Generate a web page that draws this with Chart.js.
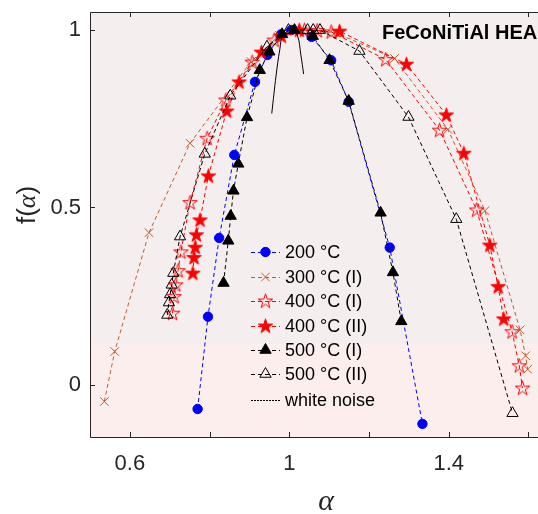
<!DOCTYPE html>
<html>
<head>
<meta charset="utf-8">
<script src="https://cdn.jsdelivr.net/npm/chart.js@4.4.1/dist/chart.umd.min.js"></script>
<style>
  html, body { margin: 0; padding: 0; background: #fff; }
</style>
</head>
<body>
<canvas id="chart" width="538" height="514"></canvas>
<script>
// values: alpha (x) and f(alpha) (y) per curve
const alpha200 = [0.770, 0.796, 0.824, 0.862, 0.914, 0.945, 0.979, 1.005, 1.056, 1.105, 1.149, 1.252, 1.334];
const f200     = [-0.068, 0.192, 0.414, 0.648, 0.854, 0.930, 0.988, 1.000, 0.981, 0.915, 0.798, 0.387, -0.110];

const alpha300 = [0.536, 0.562, 0.648, 0.751, 0.904, 0.975, 1.010, 1.115, 1.264, 1.398, 1.491, 1.579, 1.593, 1.598];
const f300     = [-0.047, 0.094, 0.429, 0.681, 0.911, 0.985, 1.000, 0.993, 0.920, 0.720, 0.491, 0.155, 0.082, 0.044];

const alpha400a = [0.707, 0.711, 0.715, 0.721, 0.728, 0.751, 0.794, 0.841, 0.907, 0.962, 1.038, 1.070, 1.105, 1.242, 1.377, 1.470, 1.559, 1.577, 1.585];
const f400a     = [0.202, 0.249, 0.282, 0.322, 0.375, 0.514, 0.695, 0.803, 0.910, 0.972, 1.000, 0.999, 0.995, 0.917, 0.718, 0.493, 0.150, 0.054, -0.009];

const alpha400b = [0.758, 0.761, 0.764, 0.767, 0.776, 0.797, 0.843, 0.874, 0.930, 0.980, 1.025, 1.126, 1.294, 1.394, 1.438, 1.503, 1.524, 1.538];
const f400b     = [0.315, 0.359, 0.388, 0.423, 0.465, 0.589, 0.772, 0.854, 0.938, 0.983, 1.000, 0.997, 0.904, 0.761, 0.653, 0.394, 0.277, 0.186];

const alpha500a = [0.835, 0.847, 0.853, 0.860, 0.872, 0.894, 0.926, 0.950, 0.982, 1.013, 1.059, 1.101, 1.149, 1.229, 1.260, 1.281];
const f500a     = [0.287, 0.406, 0.476, 0.547, 0.623, 0.754, 0.887, 0.939, 0.988, 1.000, 0.983, 0.915, 0.800, 0.485, 0.317, 0.179];

const alpha500b = [0.694, 0.698, 0.701, 0.705, 0.709, 0.726, 0.788, 0.852, 0.944, 0.998, 1.046, 1.060, 1.077, 1.176, 1.299, 1.419, 1.560];
const f500b     = [0.197, 0.232, 0.255, 0.282, 0.315, 0.418, 0.651, 0.815, 0.953, 1.000, 1.000, 1.000, 1.000, 0.941, 0.755, 0.467, -0.080];

const alphaNoise = [0.956, 0.967, 0.976, 0.985, 1.003, 1.020, 1.029, 1.036];
const fNoise     = [0.765, 0.873, 0.944, 0.991, 1.005, 0.986, 0.930, 0.876];

const seriesLabels = ['200 °C', '300 °C (I)', '400 °C (I)', '400 °C (II)', '500 °C (I)', '500 °C (II)', 'white noise'];

const xTickValues = [0.6, 0.8, 1.0, 1.2, 1.4, 1.6];
const xTickLabels = ['0.6', '', '1', '', '1.4', ''];
const yTickValues = [0, 0.5, 1];
const yTickLabels = ['0', '0.5', '1'];

const AXIS = '#262626';
const RED = '#ff0000';
const BROWN = '#c65a26';

// 5-point star markers (chart.js has none)
function starMarker(filled) {
  const c = document.createElement('canvas');
  c.width = 19; c.height = 19;
  const g = c.getContext('2d');
  g.beginPath();
  for (let i = 0; i < 10; i++) {
    const r = i % 2 ? 2.9 : 7.6;
    const a = -Math.PI / 2 + i * Math.PI / 5;
    g.lineTo(9.5 + r * Math.cos(a), 10 + r * Math.sin(a));
  }
  g.closePath();
  if (filled) { g.fillStyle = RED; g.fill(); }
  g.strokeStyle = RED;
  g.lineWidth = 1;
  g.stroke();
  return c;
}
const starOpen = starMarker(false);
const starFull = starMarker(true);

function pts(xs, ys) {
  return xs.map((x, i) => ({ x: x, y: ys[i] }));
}

function makeSet(i, xs, ys, color, style, radius, fillColor, dash) {
  return {
    label: seriesLabels[i],
    data: pts(xs, ys),
    showLine: true,
    borderColor: color,
    borderWidth: 1,
    borderDash: dash,
    backgroundColor: fillColor,
    pointStyle: style,
    pointRadius: radius,
    pointBorderColor: color,
    pointBackgroundColor: fillColor,
    pointBorderWidth: 1,
    order: 10 - i
  };
}

const dashes = [4, 3];
const datasets = [
  makeSet(0, alpha200, f200, '#0000ff', 'circle', 4.7, '#0000ff', dashes),
  makeSet(1, alpha300, f300, BROWN, 'crossRot', 6, 'rgba(0,0,0,0)', dashes),
  makeSet(2, alpha400a, f400a, RED, starOpen, 7, 'rgba(0,0,0,0)', dashes),
  makeSet(3, alpha400b, f400b, RED, starFull, 7, RED, dashes),
  makeSet(4, alpha500a, f500a, '#000000', 'triangle', 6.5, '#000000', dashes),
  makeSet(5, alpha500b, f500b, '#000000', 'triangle', 6.5, 'rgba(0,0,0,0)', dashes),
  makeSet(6, alphaNoise, fNoise, '#000000', false, 0, '#000000', [])
];
datasets[6].tension = 0.4;
datasets[6].pointRadius = 0;

const framePlugin = {
  id: 'frame',
  beforeDraw(chart) {
    const { ctx, chartArea: a, scales } = chart;
    ctx.save();
    ctx.fillStyle = '#ffffff';
    ctx.fillRect(0, 0, chart.width, chart.height);
    const yb = scales.y.getPixelForValue(0.113);
    ctx.fillStyle = '#f5eeee';
    ctx.fillRect(a.left, a.top, a.right - a.left, yb - a.top);
    ctx.fillStyle = '#fdeeee';
    ctx.fillRect(a.left, yb, a.right - a.left, a.bottom - yb);
    ctx.restore();
  },
  afterDatasetsDraw(chart) {
    const { ctx, chartArea: a, scales } = chart;
    ctx.save();
    // axes box and inward ticks
    ctx.strokeStyle = AXIS;
    ctx.lineWidth = 1;
    ctx.setLineDash([]);
    ctx.beginPath();
    ctx.moveTo(a.right + 1, a.top + 0.5);
    ctx.lineTo(a.left + 0.5, a.top + 0.5);
    ctx.lineTo(a.left + 0.5, a.bottom + 0.5);
    ctx.lineTo(a.right + 1, a.bottom + 0.5);
    xTickValues.forEach(v => {
      const x = Math.round(scales.x.getPixelForValue(v)) + 0.5;
      ctx.moveTo(x, a.bottom); ctx.lineTo(x, a.bottom - 5);
      ctx.moveTo(x, a.top); ctx.lineTo(x, a.top + 5);
    });
    yTickValues.forEach(v => {
      const y = Math.round(scales.y.getPixelForValue(v)) + 0.5;
      ctx.moveTo(a.left, y); ctx.lineTo(a.left + 5, y);
    });
    ctx.stroke();

    // label in the corner
    ctx.fillStyle = '#000';
    ctx.font = 'bold 20px "Liberation Sans", Arial, sans-serif';
    ctx.textBaseline = 'middle';
    ctx.textAlign = 'left';
    ctx.fillText('FeCoNiTiAl HEA', 382, 33);

    // legend
    const rows = [252, 277, 301, 326, 350, 374, 400];
    chart.data.datasets.forEach((ds, i) => {
      const y = rows[i];
      ctx.save();
      ctx.strokeStyle = ds.borderColor;
      ctx.lineWidth = 1;
      ctx.setLineDash(i === 6 ? [2, 1] : [4, 3]);
      ctx.beginPath();
      ctx.moveTo(251, y + 0.5);
      ctx.lineTo(280, y + 0.5);
      ctx.stroke();
      ctx.setLineDash([]);
      if (ds.pointStyle) {
        ctx.fillStyle = ds.pointBackgroundColor;
        ctx.strokeStyle = ds.pointBorderColor;
        Chart.helpers.drawPoint(ctx, {
          pointStyle: ds.pointStyle, radius: ds.pointRadius, rotation: 0, borderWidth: 1
        }, 265.5, y);
      }
      ctx.restore();
      ctx.fillStyle = '#000';
      ctx.font = '18px "Liberation Sans", Arial, sans-serif';
      ctx.textBaseline = 'middle';
      ctx.fillText(ds.label, 285, y + 1);
    });

    // axis titles
    ctx.fillStyle = AXIS;
    ctx.textAlign = 'center';
    ctx.font = 'italic 30px "Liberation Serif", "Times New Roman", serif';
    ctx.fillText('α', 326, 502);

    ctx.translate(28, 205);
    ctx.rotate(-Math.PI / 2);
    const sans = '26px "Liberation Sans", Arial, sans-serif';
    const serif = 'italic 26px "Liberation Serif", "Times New Roman", serif';
    ctx.font = sans;
    const w1 = ctx.measureText('f(').width;
    const w3 = ctx.measureText(')').width;
    ctx.font = serif;
    const w2 = ctx.measureText('α').width;
    let x0 = -(w1 + w2 + w3) / 2;
    ctx.textAlign = 'left';
    ctx.font = sans; ctx.fillText('f(', x0, 0);
    ctx.font = serif; ctx.fillText('α', x0 + w1, 0);
    ctx.font = sans; ctx.fillText(')', x0 + w1 + w2, 0);
    ctx.restore();
  }
};

new Chart(document.getElementById('chart'), {
  type: 'scatter',
  data: { datasets },
  options: {
    responsive: false,
    animation: false,
    layout: { autoPadding: false, padding: { top: 12, right: 0, left: 0, bottom: 0 } },
    plugins: { legend: { display: false }, tooltip: { enabled: false } },
    scales: {
      x: {
        type: 'linear',
        min: 0.5,
        max: 1.624,
        grid: { display: false, drawTicks: false },
        border: { display: false },
        afterBuildTicks: s => { s.ticks = xTickValues.map(v => ({ value: v })); },
        afterFit: s => { s.height = 77; s.paddingLeft = 0; s.paddingRight = 0; },
        ticks: {
          autoSkip: false,
          maxRotation: 0,
          padding: 14,
          color: AXIS,
          font: { family: '"Liberation Sans", Arial, sans-serif', size: 22 },
          callback: (v, i) => xTickLabels[i]
        }
      },
      y: {
        type: 'linear',
        min: -0.147,
        max: 1.051,
        grid: { display: false, drawTicks: false },
        border: { display: false },
        afterBuildTicks: s => { s.ticks = yTickValues.map(v => ({ value: v })); },
        afterFit: s => { s.width = 90; s.paddingTop = 0; s.paddingBottom = 0; },
        ticks: {
          padding: 9,
          color: AXIS,
          font: { family: '"Liberation Sans", Arial, sans-serif', size: 22 },
          callback: (v, i) => yTickLabels[i]
        }
      }
    }
  },
  plugins: [framePlugin]
});
</script>
</body>
</html>
